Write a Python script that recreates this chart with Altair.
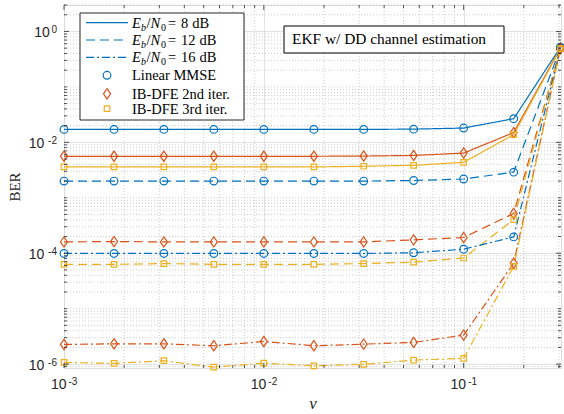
import altair as alt
import pandas as pd

# ---------------- data ----------------
nu = [0.001, 0.00178, 0.00316, 0.00562, 0.01, 0.0178, 0.0316, 0.0562, 0.1, 0.178, 0.305]

mmse_8 = [0.0171, 0.0171, 0.0171, 0.0171, 0.0171, 0.0171, 0.0171, 0.0173, 0.0181, 0.0267, 0.52]
dfe2_8 = [0.0056, 0.0056, 0.0056, 0.0056, 0.0056, 0.0056, 0.00565, 0.0058, 0.0064, 0.0150, 0.50]
dfe3_8 = [0.0036, 0.0036, 0.0036, 0.0036, 0.0036, 0.0036, 0.0037, 0.00385, 0.00436, 0.0138, 0.49]

mmse_12 = [0.0020, 0.0020, 0.0020, 0.0020, 0.0020, 0.0020, 0.0020, 0.00205, 0.00218, 0.0029, 0.50]
dfe2_12 = [1.6e-4, 1.62e-4, 1.6e-4, 1.6e-4, 1.6e-4, 1.6e-4, 1.6e-4, 1.74e-4, 1.92e-4, 5.2e-4, 0.49]
dfe3_12 = [6.3e-5, 6.3e-5, 6.5e-5, 6.3e-5, 6.3e-5, 6.3e-5, 6.5e-5, 6.9e-5, 8.2e-5, 4.05e-4, 0.49]

mmse_16 = [9.9e-5, 9.9e-5, 9.9e-5, 9.9e-5, 9.9e-5, 9.9e-5, 9.9e-5, 1.02e-4, 1.18e-4, 1.97e-4, 0.50]
dfe2_16 = [2.26e-6, 2.32e-6, 2.32e-6, 2.14e-6, 2.56e-6, 2.14e-6, 2.29e-6, 2.46e-6, 3.33e-6, 6.6e-5, 0.49]
dfe3_16 = [1.07e-6, 1.03e-6, 1.15e-6, 8.8e-7, 1.04e-6, 9.3e-7, 9.9e-7, 1.18e-6, 1.27e-6, 5.8e-5, 0.49]

receivers = ["Linear MMSE", "IB-DFE 2nd iter.", "IB-DFE 3rd iter."]
snrs = ["8", "12", "16"]
series = {
    ("Linear MMSE", "8"): mmse_8, ("IB-DFE 2nd iter.", "8"): dfe2_8, ("IB-DFE 3rd iter.", "8"): dfe3_8,
    ("Linear MMSE", "12"): mmse_12, ("IB-DFE 2nd iter.", "12"): dfe2_12, ("IB-DFE 3rd iter.", "12"): dfe3_12,
    ("Linear MMSE", "16"): mmse_16, ("IB-DFE 2nd iter.", "16"): dfe2_16, ("IB-DFE 3rd iter.", "16"): dfe3_16,
}

x_tick_values = [1e-3, 1e-2, 1e-1]
x_tick_exps = ["-3", "-2", "-1"]
y_tick_values = [1e-6, 1e-4, 1e-2, 1.0]
y_tick_exps = ["-6", "-4", "-2", "0"]
tick_base = "10"

annotation = "EKF w/ DD channel estimation"
x_title = "ν"
y_title = "BER"

# ---------------- style ----------------
W, H = 497, 363
colors = ["#0072BD", "#D95319", "#EDB120"]
dashes = [[1, 0], [9, 5], [8, 3, 2, 3]]
circle_path = "M-0.7,0A0.7,0.7,0,1,1,0.7,0A0.7,0.7,0,1,1,-0.7,0Z"
diamond_path = "M0,-0.93L0.64,0L0,0.93L-0.64,0Z"
square_path = "M-0.5,-0.5L0.5,-0.5L0.5,0.5L-0.5,0.5Z"
shapes = [circle_path, diamond_path, square_path]
MSIZE = 121
SERIF = "Liberation Serif"
SANS = "Liberation Sans"
LABEL_COLOR = "#262626"

rows = []
for (rcv, snr), vals in series.items():
    for x, y in zip(nu, vals):
        rows.append({"nu": x, "ber": y, "receiver": rcv, "snr": snr, "series": rcv + snr})
df = pd.DataFrame(rows)

xscale = alt.Scale(type="log", domain=[0.001, 0.307], nice=False)
yscale = alt.Scale(type="log", domain=[8.5e-7, 3.0], nice=False)

xaxis = alt.Axis(values=x_tick_values, labels=False,
                 grid=True, gridColor="#dadada", gridWidth=0.8, ticks=False, tickSize=0,
                 domain=False,
                 titleFont=SERIF, titleFontSize=17, titleFontStyle="italic",
                 titleFontWeight="normal", titleColor=LABEL_COLOR,
                 titleY=40, titleBaseline="alphabetic")
yaxis = alt.Axis(values=y_tick_values, labels=False,
                 grid=True, gridColor="#dadada", gridWidth=0.8, ticks=False, tickSize=0,
                 domain=False,
                 titleFont=SERIF, titleFontSize=15, titleFontWeight="normal",
                 titleColor=LABEL_COLOR, titleX=-45, titleBaseline="alphabetic")


def X(field):
    return alt.X(field, scale=xscale, axis=xaxis, title=x_title)


def Y(field):
    return alt.Y(field, scale=yscale, axis=yaxis, title=y_title)


# minor grid / tick positions
x_minor = [k * 10.0 ** n for n in (-3, -2, -1) for k in range(2, 10) if k * 10.0 ** n <= 0.307]
y_minor = [k * 10.0 ** n for n in range(-7, 1) for k in range(1, 10)
           if 8.5e-7 <= k * 10.0 ** n <= 3.0 and not (k == 1 and n % 2 == 0)]
y_major = y_tick_values

dummy = pd.DataFrame({"a": [0]})

base = alt.Chart(df).encode(
    x=X("nu:Q"),
    y=Y("ber:Q"),
    color=alt.Color("receiver:N", scale=alt.Scale(domain=receivers, range=colors), legend=None),
)

# grids
gx = alt.Chart(pd.DataFrame({"v": x_minor})).mark_rule(
    color="#b8b8b8", strokeWidth=0.7, strokeDash=[1, 2]
).encode(x=X("v:Q"), y=alt.value(0), y2=alt.value(H))
gy = alt.Chart(pd.DataFrame({"v": y_minor})).mark_rule(
    color="#b8b8b8", strokeWidth=0.7, strokeDash=[1, 2]
).encode(y=Y("v:Q"), x=alt.value(0), x2=alt.value(W))

lines = base.mark_line(strokeWidth=1.2).encode(
    strokeDash=alt.StrokeDash("snr:N", scale=alt.Scale(domain=snrs, range=dashes), legend=None),
    detail="series:N",
)
points = base.mark_point(filled=False, strokeWidth=1.2, size=MSIZE, opacity=1).encode(
    shape=alt.Shape("receiver:N", scale=alt.Scale(domain=receivers, range=shapes), legend=None),
)

# inward ticks
tick_layers = []
for vals, ln in ((x_tick_values, 5), (x_minor, 3)):
    d = pd.DataFrame({"v": vals})
    tick_layers.append(alt.Chart(d).mark_rule(color=LABEL_COLOR, strokeWidth=0.8).encode(
        x=X("v:Q"), y=alt.value(H), y2=alt.value(H - ln)))
    tick_layers.append(alt.Chart(d).mark_rule(color=LABEL_COLOR, strokeWidth=0.8).encode(
        x=X("v:Q"), y=alt.value(0), y2=alt.value(ln)))
for vals, ln in ((y_major, 5), (y_minor, 3)):
    d = pd.DataFrame({"v": vals})
    tick_layers.append(alt.Chart(d).mark_rule(color=LABEL_COLOR, strokeWidth=0.8).encode(
        y=Y("v:Q"), x=alt.value(0), x2=alt.value(ln)))
    tick_layers.append(alt.Chart(d).mark_rule(color=LABEL_COLOR, strokeWidth=0.8).encode(
        y=Y("v:Q"), x=alt.value(W), x2=alt.value(W - ln)))

# tick labels: "10" with a raised exponent
label_layers = []
xt = pd.DataFrame({"v": x_tick_values, "base": [tick_base] * len(x_tick_values), "e": x_tick_exps})
label_layers.append(alt.Chart(xt).mark_text(
    align="right", baseline="alphabetic", font=SANS, fontSize=14, color=LABEL_COLOR, dx=2.5
).encode(x=X("v:Q"), y=alt.value(H + 21), text="base:N"))
label_layers.append(alt.Chart(xt).mark_text(
    align="left", baseline="alphabetic", font=SANS, fontSize=10, color=LABEL_COLOR, dx=4.5
).encode(x=X("v:Q"), y=alt.value(H + 17), text="e:N"))
for v, e in zip(y_tick_values, y_tick_exps):
    yt = pd.DataFrame({"v": [v], "base": [tick_base], "e": [e]})
    ew = 5.6 * len(e)
    label_layers.append(alt.Chart(yt).mark_text(
        align="right", baseline="alphabetic", font=SANS, fontSize=14, color=LABEL_COLOR, dy=5.5
    ).encode(y=Y("v:Q"), x=alt.value(-7 - ew - 1.5), text="base:N"))
    label_layers.append(alt.Chart(yt).mark_text(
        align="right", baseline="alphabetic", font=SANS, fontSize=10, color=LABEL_COLOR, dy=2
    ).encode(y=Y("v:Q"), x=alt.value(-7), text="e:N"))


def txt(s, x, y, size=14, italic=False):
    return alt.Chart(dummy).mark_text(
        text=s, align="left", baseline="alphabetic", font=SERIF, fontSize=size,
        fontStyle="italic" if italic else "normal", color="black"
    ).encode(x=alt.value(x), y=alt.value(y))


# annotation box
ann_box = alt.Chart(dummy).mark_rect(fill="white", stroke="black", strokeWidth=1).encode(
    x=alt.value(220), x2=alt.value(440), y=alt.value(21), y2=alt.value(48))
ann_txt = txt(annotation, 228, 39, size=15.4)

# legend
leg_box = alt.Chart(dummy).mark_rect(fill="white", stroke="#262626", strokeWidth=1).encode(
    x=alt.value(16), x2=alt.value(180), y=alt.value(8), y2=alt.value(115))
leg_layers = [leg_box]
line_rows = [17.7, 35, 52.3]
for yy, dash, snr in zip(line_rows, dashes, snrs):
    leg_layers.append(alt.Chart(dummy).mark_rule(color=colors[0], strokeWidth=1.2, strokeDash=dash).encode(
        x=alt.value(22), x2=alt.value(64), y=alt.value(yy)))
    b = yy + 5
    leg_layers += [
        txt("E", 68, b, 14.5, True),
        txt("b", 77, b + 3, 10, True),
        txt("/", 82.5, b, 14.5),
        txt("N", 86.5, b, 14.5, True),
        txt("0", 97, b + 3, 10),
        txt("=", 104, b, 14.5),
        txt(snr, 117, b, 14.5),
        txt("dB", 118 + 7.3 * len(snr) + 3, b, 14.5),
    ]
mark_rows = [70.3, 88.8, 103.7]
for yy, rcv, col, shp in zip(mark_rows, receivers, colors, shapes):
    leg_layers.append(alt.Chart(dummy).mark_point(filled=False, strokeWidth=1.2, size=MSIZE, color=col,
                                                  shape=shp, opacity=1).encode(
        x=alt.value(43), y=alt.value(yy)))
    leg_layers.append(txt(rcv, 68, yy + 5, 14.5))

chart = alt.layer(gx, gy, lines, points, *tick_layers, *label_layers, ann_box, ann_txt,
                  *leg_layers).properties(
    width=W, height=H,
    autosize=alt.AutoSizeParams(type="none"),
    padding={"left": 64, "top": 5, "right": 3, "bottom": 46},
).configure_view(stroke="#262626", strokeWidth=1).configure(background="white")

chart.save("out.html", embed_options={"renderer": "svg", "actions": False})
